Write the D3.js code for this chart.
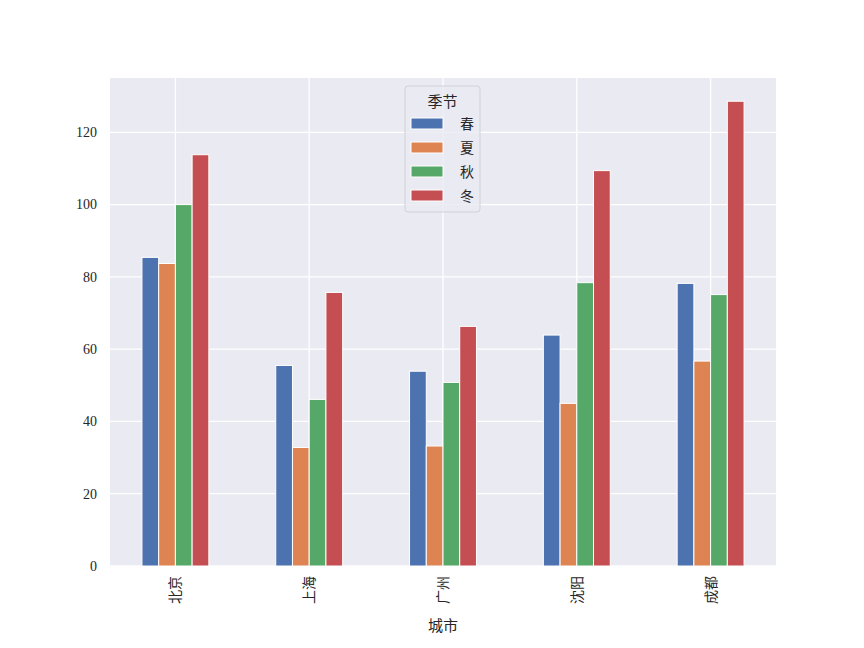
<!DOCTYPE html>
<html>
<head>
<meta charset="utf-8">
<script src="https://cdn.jsdelivr.net/npm/d3@7"></script>
<style>
body { margin: 0; background: #fff; }
text { font-family: "Liberation Serif", "DejaVu Serif", "Noto Sans CJK SC", serif; fill: #262626; }
.cjk { font-family: "Noto Sans CJK SC", serif; }
</style>
</head>
<body>
<script>
var cities = ["北京", "上海", "广州", "沈阳", "成都"]
var seasons = ["春", "夏", "秋", "冬"]
var spring = [85.4, 55.5, 53.9, 63.9, 78.2]
var summer = [83.7, 32.8, 33.2, 45.0, 56.7]
var autumn = [100.0, 46.1, 50.8, 78.4, 75.1]
var winter = [113.8, 75.7, 66.3, 109.4, 128.6]
var yTicks = [0, 20, 40, 60, 80, 100, 120]
var colors = ["#4C72B0", "#DD8452", "#55A868", "#C44E52"]

var series = [spring, summer, autumn, winter]

var svg = d3.select("body").append("svg")
    .attr("width", 864)
    .attr("height", 648)

var plotLeft = 110, plotRight = 776, plotTop = 78, plotBottom = 566

var x = d3.scaleBand().domain(cities).range([108.5, 777.5]).paddingInner(0.5).paddingOuter(0.25)
var xs = d3.scaleBand().domain(seasons).range([0, x.bandwidth()])
var y = d3.scaleLinear().domain([0, 128.6 * 1.05]).range([plotBottom, plotTop])

svg.append("rect")
    .attr("x", plotLeft).attr("y", plotTop)
    .attr("width", plotRight - plotLeft).attr("height", plotBottom - plotTop)
    .attr("fill", "#EAEAF2")

// grid
svg.selectAll(".ygrid").data(yTicks).enter().append("line")
    .attr("x1", plotLeft).attr("x2", plotRight)
    .attr("y1", function(d) { return y(d) }).attr("y2", function(d) { return y(d) })
    .attr("stroke", "#fff").attr("stroke-width", 1.3)

svg.selectAll(".xgrid").data(cities).enter().append("line")
    .attr("x1", function(d) { return x(d) + x.bandwidth() / 2 })
    .attr("x2", function(d) { return x(d) + x.bandwidth() / 2 })
    .attr("y1", plotTop).attr("y2", plotBottom)
    .attr("stroke", "#fff").attr("stroke-width", 1.3)

// bars
series.forEach(function(vals, si) {
    svg.selectAll(".bar" + si).data(vals).enter().append("rect")
        .attr("x", function(d, i) { return x(cities[i]) + xs(seasons[si]) })
        .attr("width", xs.bandwidth())
        .attr("y", function(d) { return y(d) })
        .attr("height", function(d) { return y(0) - y(d) })
        .attr("fill", colors[si])
        .attr("stroke", "#fff").attr("stroke-width", 1)
})

// y axis labels
svg.selectAll(".ylab").data(yTicks).enter().append("text")
    .attr("x", 97).attr("y", function(d) { return y(d) })
    .attr("dy", "0.35em")
    .attr("text-anchor", "end")
    .attr("font-size", 14)
    .text(function(d) { return d })

// x axis labels, rotated
svg.selectAll(".xlab").data(cities).enter().append("text")
    .attr("class", "cjk")
    .attr("transform", function(d) { return "translate(" + (x(d) + x.bandwidth() / 2) + "," + 576 + ") rotate(-90)" })
    .attr("text-anchor", "end")
    .attr("dy", "0.35em")
    .attr("font-size", 14)
    .text(function(d) { return d })

svg.append("text")
    .attr("class", "cjk")
    .attr("x", (plotLeft + plotRight) / 2).attr("y", 631)
    .attr("text-anchor", "middle")
    .attr("font-size", 15)
    .text("城市")

// legend
var lg = svg.append("g").attr("transform", "translate(405,86)")
lg.append("rect")
    .attr("width", 75).attr("height", 126)
    .attr("rx", 3)
    .attr("fill", "#EAEAF2").attr("fill-opacity", 0.8)
    .attr("stroke", "#d0d0d6").attr("stroke-width", 1)
lg.append("text")
    .attr("class", "cjk")
    .attr("x", 37.5).attr("y", 21)
    .attr("text-anchor", "middle")
    .attr("font-size", 15)
    .text("季节")

var items = lg.selectAll(".item").data(seasons).enter().append("g")
    .attr("transform", function(d, i) { return "translate(0," + (38 + i * 24) + ")" })
items.append("rect")
    .attr("x", 6).attr("y", -6)
    .attr("width", 32).attr("height", 11)
    .attr("fill", function(d, i) { return colors[i] })
    .attr("stroke", "#fff").attr("stroke-width", 1)
items.append("text")
    .attr("class", "cjk")
    .attr("x", 55).attr("y", 0)
    .attr("dy", "0.35em")
    .attr("font-size", 14)
    .text(function(d) { return d })
</script>
</body>
</html>
